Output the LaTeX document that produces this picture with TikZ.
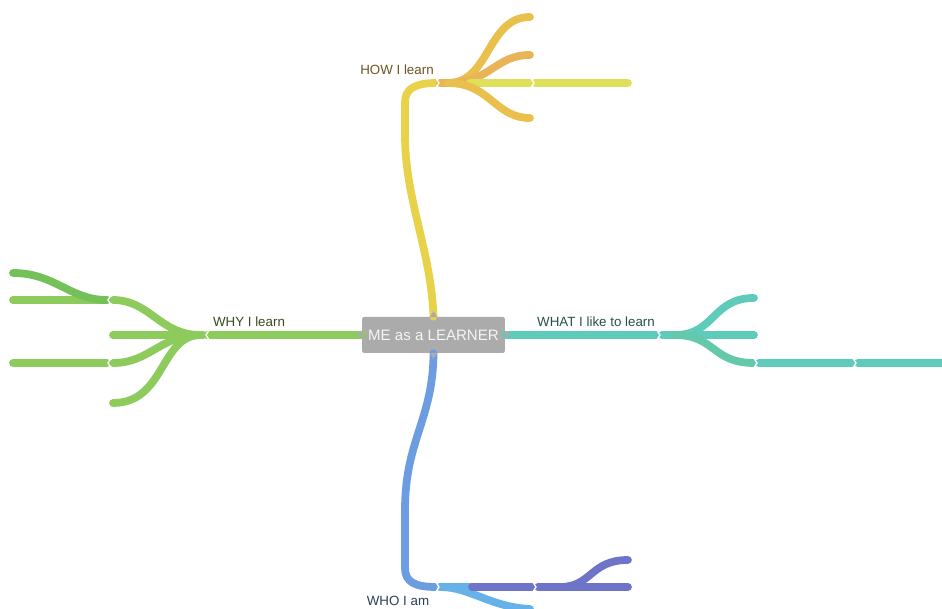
\documentclass[tikz,border=0pt]{standalone}
\usepackage{fontspec}
\setmainfont{Liberation Sans}
\begin{document}
\begin{tikzpicture}[x=0.75pt,y=-0.75pt,
  br/.style={line width=5.8pt,line cap=round},
  lbl/.style={font=\fontsize{10}{12}\selectfont,inner sep=0pt},
  chl/.pic={\draw[white,line width=1pt,line cap=round] (2.5,-5.5)--(-1,0)--(2.5,5.5);},
  chr/.pic={\draw[white,line width=1pt,line cap=round] (-2.5,-5.5)--(1,0)--(-2.5,5.5);}]
\definecolor{gr}{HTML}{8DCB5C}
\definecolor{grd}{HTML}{74C15A}
\definecolor{yl}{HTML}{E8D24A}
\definecolor{yo}{HTML}{E9C04C}
\definecolor{org}{HTML}{E9B358}
\definecolor{lim}{HTML}{DFE05A}
\definecolor{tl}{HTML}{5FCBBB}
\definecolor{tlg}{HTML}{64C8AA}
\definecolor{bl}{HTML}{6B9DE0}
\definecolor{lb}{HTML}{66B2E8}
\definecolor{pu}{HTML}{6E74C8}
\definecolor{boxg}{HTML}{ABABAB}
\useasboundingbox[fill=white] (0,0) rectangle (942,609);

\node[fill=boxg,rounded corners=1.5pt,minimum width=107pt,minimum height=27pt,inner sep=0pt,
  text=white!92!gray,font=\fontsize{11.3}{13}\selectfont] (me) at (433.5,335) {ME as a LEARNER};

% WHY (green)
\draw[br,gr] (me.west) -- (207,335);
\draw[br,gr] (203,335) -- (185,335);
\draw[br,gr] (200,335) .. controls (160,335) and (150,300) .. (113,300);
\draw[br,gr] (200,335) -- (113,335);
\draw[br,gr] (200,335) .. controls (160,335) and (150,363) .. (113,363);
\draw[br,gr] (200,335) .. controls (160,336) and (165,403) .. (113,403);
\draw[br,gr] (107,300) -- (13,300);
\draw[br,grd] (107,300) .. controls (70,300) and (55,273) .. (13,273);
\draw[br,gr] (107,363) -- (13,363);
\pic at (207,335) {chl};
\pic at (109,300) {chl};
\pic at (109,363) {chl};
\node[lbl,text=black!62!gr] (why) at (249,322) {WHY I learn};

% HOW (yellow)
\draw[br,yl] (me.north) .. controls (431,250) and (405,200) .. (405,135) -- (405,102) .. controls (405,89) and (415,83) .. (436,83);
\draw[br,org] (440,83) -- (470,83);
\draw[br,yo] (448,83) .. controls (490,83) and (487,17) .. (530,17);
\draw[br,org] (448,83) .. controls (490,83) and (495,55) .. (530,55);
\draw[br,lim] (470,83) -- (530,83);
\draw[br,lim] (535,83) -- (628,83);
\draw[br,yo] (448,83) .. controls (490,83) and (495,118) .. (530,118);
\pic at (438,83) {chr};
\pic at (533,83) {chr};
\node[lbl,text=black!55!yo] (how) at (397,70) {HOW I learn};

% WHAT (teal)
\draw[br,tl] (me.east) -- (657,335);
\draw[br,tl] (662,335) -- (690,335);
\draw[br,tl] (675,335) .. controls (715,335) and (712,298) .. (754,298);
\draw[br,tl] (675,335) -- (754,335);
\draw[br,tlg] (675,335) .. controls (715,335) and (712,363) .. (754,363);
\draw[br,tl] (759,363) -- (852,363);
\draw[br,tl] (858,363) -- (946,363);
\pic at (659,335) {chr};
\pic at (756,363) {chr};
\pic at (855,363) {chr};
\node[lbl,text=black!60!tl] (what) at (596,322) {WHAT I like to learn};

% WHO (blue)
\draw[br,bl] (me.south) .. controls (433,420) and (405,440) .. (405,510) -- (405,568) .. controls (405,582) and (415,587) .. (436,587);
\draw[br,lb] (440,587) .. controls (470,587) and (490,607) .. (530,609);
\draw[br,lb] (440,587) -- (480,587);
\draw[br,pu] (472,587) -- (533,587);
\draw[br,pu] (538,587) -- (628,587);
\draw[br,pu] (560,587) .. controls (592,587) and (590,560) .. (628,560);
\pic at (438,587) {chr};
\pic at (535,587) {chr};
\node[lbl,text=black!60!bl] (who) at (398,601) {WHO I am};

% center box notches
\fill[boxg] (me.north) ++(-4,0.5) -- ++(4,-6) -- ++(4,6) -- cycle;
\fill[boxg] (me.south) ++(-4,-0.5) -- ++(4,6) -- ++(4,-6) -- cycle;
\fill[boxg] (me.west) ++(0.5,-4) -- ++(-6,4) -- ++(6,4) -- cycle;
\fill[boxg] (me.east) ++(-0.5,-4) -- ++(6,4) -- ++(-6,4) -- cycle;
\end{tikzpicture}
\end{document}
